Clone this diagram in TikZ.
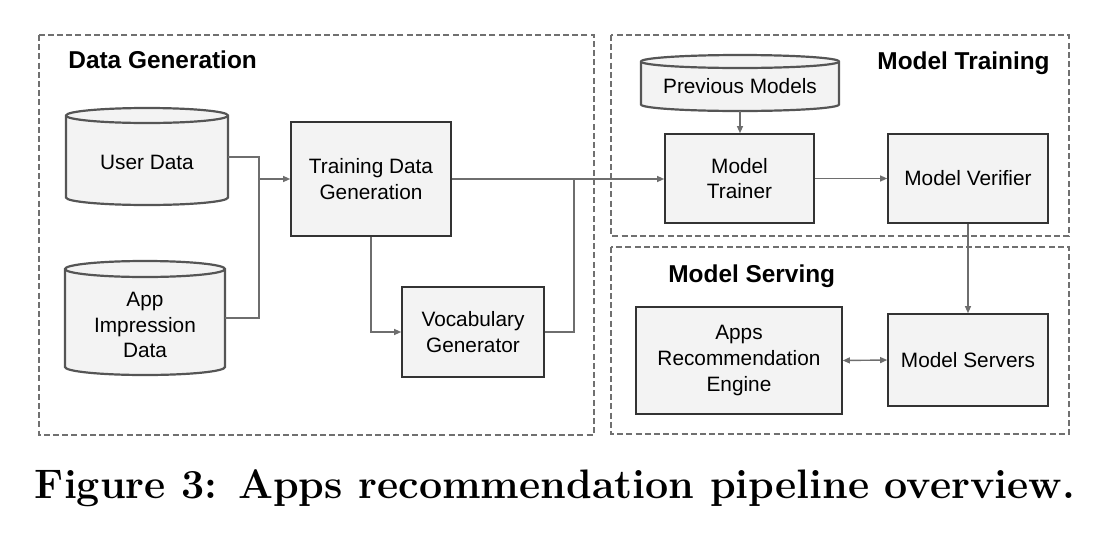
\documentclass[tikz,border=0pt]{standalone}
\usepackage{fontspec}
\newfontfamily\sans{Liberation Sans}
\usetikzlibrary{arrows.meta,calc}
\definecolor{boxfill}{HTML}{F3F3F3}
\definecolor{boxline}{HTML}{333333}
\definecolor{cylline}{HTML}{555555}
\definecolor{connc}{HTML}{6E6E6E}
\definecolor{grpline}{HTML}{707070}
\newcommand\cylpath[5]{% x1 x2 ytop ybot ry (px)
  \filldraw[cylstyle] (#1,{-(#3+#5)}) -- (#1,{-(#4-#5)})
    arc[start angle=180,end angle=360,x radius={(#2-#1)*0.25pt},y radius={#5*0.5pt}]
    -- (#2,{-(#3+#5)})
    arc[start angle=0,end angle=180,x radius={(#2-#1)*0.25pt},y radius={#5*0.5pt}] -- cycle;
  \draw[cylstyle] (#1,{-(#3+#5)})
    arc[start angle=180,end angle=360,x radius={(#2-#1)*0.25pt},y radius={#5*0.5pt}];
}
\tikzset{
  cylstyle/.style={draw=cylline, fill=boxfill, line width=1.1pt},
  boxnode/.style={draw=boxline, fill=boxfill, line width=0.75pt, align=center,
    font=\sans\fontsize{10.4}{12.8}\selectfont, inner sep=0pt},
  cyltext/.style={align=center, font=\sans\fontsize{10.4}{12.8}\selectfont, inner sep=0pt},
  grp/.style={draw=grpline, line width=0.6pt, dash pattern=on 3pt off 1.6pt},
  title/.style={font=\sans\bfseries\fontsize{12.2}{14}\selectfont, inner sep=0pt},
  conn/.style={draw=connc, line width=0.7pt},
  arr/.style={conn, -{Triangle[length=3.6pt,width=3pt]}},
  darr/.style={conn, {Triangle[length=3.6pt,width=3pt]}-{Triangle[length=3.6pt,width=3pt]}},
}
\begin{document}
\begin{tikzpicture}[x=0.5pt,y=0.5pt]
\useasboundingbox (0,0) rectangle (1094,-542);
% group boxes
\draw[grp] (39,-35) rectangle (594,-435);
\draw[grp] (611,-35) rectangle (1069,-236);
\draw[grp] (611,-247) rectangle (1069,-434);
\node[title, anchor=west] (tdg-title) at (68,-60) {Data Generation};
\node[title, anchor=east] (tmt-title) at (1050,-63) {Model Training};
\node[title, anchor=west] (tms-title) at (668,-276) {Model Serving};
% cylinders
\cylpath{66}{228}{108}{205}{7.5}
\cylpath{65}{225}{261}{375}{8}
\cylpath{641}{839}{55}{111}{6.5}
\node[cyltext, minimum width=81pt, minimum height=44pt] (ud) at (147,-162) {User Data};
\node[cyltext, minimum width=80pt, minimum height=53pt] (aid) at (145,-325) {App\\Impression\\Data};
\node[cyltext, minimum width=99pt, minimum height=24.75pt] (pm) at (740,-86.25) {Previous Models};
% boxes
\node[boxnode, minimum width=80pt, minimum height=57pt] (tdg) at (371,-179) {Training Data\\Generation};
\node[boxnode, minimum width=71pt, minimum height=45pt] (voc) at (473,-332) {Vocabulary\\Generator};
\node[boxnode, minimum width=74.5pt, minimum height=44.5pt] (mt) at (739.5,-178.5) {Model\\Trainer};
\node[boxnode, minimum width=80pt, minimum height=44.5pt] (mv) at (968,-178.5) {Model Verifier};
\node[boxnode, minimum width=80pt, minimum height=46pt] (ms) at (968,-360) {Model Servers};
\node[boxnode, minimum width=103pt, minimum height=53.5pt] (ar) at (739,-360.5) {Apps\\Recommendation\\Engine};
% junctions
\coordinate (j1) at (259,-179);
\coordinate (j2) at (574,-179);
% connectors
\draw[conn] ([yshift=2.5pt]ud.east) -| (j1);
\draw[conn] ([yshift=3.5pt]aid.east) -| (j1);
\draw[arr] (j1) -- (tdg.west);
\draw[arr] (tdg.south) |- (voc.west);
\draw[conn] (voc.east) -| (j2);
\draw[arr] (tdg.east) -- (tdg.east -| mt.west);
\draw[arr] (pm.south) -- (pm.south |- mt.north);
\draw[arr] (mt.east) -- (mv.west);
\draw[arr] (mv.south) -- (ms.north);
\draw[darr] (ar.east) -- (ms.west);
% caption
\node[font=\bfseries\fontsize{20.6}{25}\selectfont, inner sep=0pt] (cap) at (555,-488) {Figure 3: Apps recommendation pipeline overview.};
\end{tikzpicture}
\end{document}
